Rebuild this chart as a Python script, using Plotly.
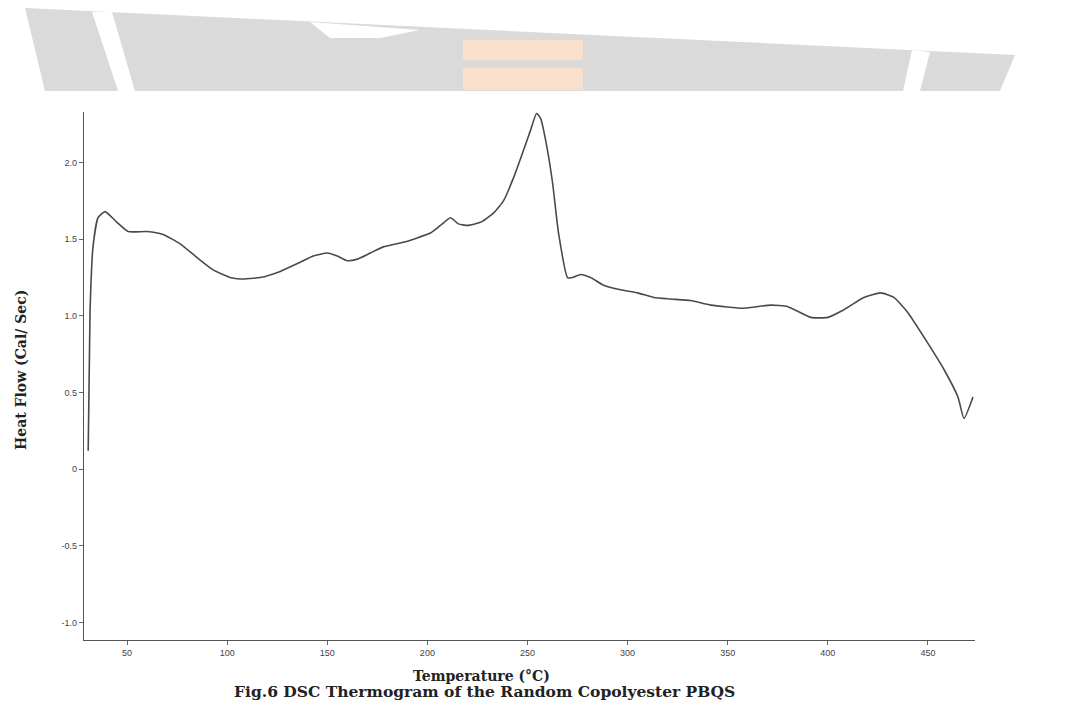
import plotly.graph_objects as go

# Data (Temperature °C, Heat Flow Cal/Sec)
temperature = [30.6, 31.5, 33, 35.5, 39, 45, 50.5, 60, 68, 76.5, 85, 93, 101.5, 106.5,
               116.5, 126.5, 136.5, 143, 150, 155, 160, 165, 171.5, 178, 188, 201.5,
               206.5, 211.5, 215.5, 220, 226.5, 233, 238, 243, 248, 251.5, 254.5, 256.5,
               259, 262.5, 265.5, 270, 272.5, 276.5, 281.5, 288, 296.5, 305, 313, 321.5,
               331.5, 341.5, 358, 371.5, 380, 391.5, 400, 408, 418, 426.5, 433, 440,
               450, 458, 465, 468, 472.5]
heat_flow = [0.12, 1.02, 1.45, 1.64, 1.68, 1.61, 1.55, 1.55, 1.53, 1.47, 1.38, 1.30, 1.25,
             1.24, 1.25, 1.29, 1.35, 1.39, 1.41, 1.39, 1.36, 1.37, 1.41, 1.45, 1.48, 1.54,
             1.59, 1.64, 1.60, 1.59, 1.61, 1.67, 1.75, 1.90, 2.08, 2.21, 2.32, 2.29, 2.15,
             1.87, 1.54, 1.25, 1.25, 1.27, 1.25, 1.20, 1.17, 1.15, 1.12, 1.11, 1.10, 1.07,
             1.05, 1.07, 1.06, 0.99, 0.99, 1.04, 1.12, 1.15, 1.12, 1.02, 0.82, 0.65, 0.47,
             0.33, 0.47]

x_ticks = [50, 100, 150, 200, 250, 300, 350, 400, 450]
y_ticks = [-1.0, -0.5, 0, 0.5, 1.0, 1.5, 2.0]
y_tick_labels = ["-1.0", "-0.5", "0", "0.5", "1.0", "1.5", "2.0"]

OFF = 8  # page body margin
W, H = 1070 - OFF, 702 - OFF
# plot area in page pixels
L, R, T, B = 84, 975, 112, 640
Lf, Rf, Tf, Bf = L - OFF, R - OFF, T - OFF, B - OFF


def px(x, y):
    """page pixel -> paper coordinates"""
    return (x - OFF - Lf) / (Rf - Lf), (Bf - (y - OFF)) / (Bf - Tf)


def poly(points):
    d = ""
    for i, (x, y) in enumerate(points):
        a, b = px(x, y)
        d += ("M" if i == 0 else "L") + f"{a:.4f},{b:.4f} "
    return d + "Z"


fig = go.Figure()
fig.add_trace(go.Scatter(
    x=temperature, y=heat_flow, mode="lines",
    line=dict(color="#4a4a4a", width=1.6, shape="spline", smoothing=0.5),
    showlegend=False, hoverinfo="x+y"))

shapes = [
    # scanned watermark band at the top
    dict(type="path", xref="paper", yref="paper", layer="below",
         path=poly([(25, 8), (1015, 55), (1000, 91), (45, 91)]),
         fillcolor="#dadada", line=dict(width=0)),
    dict(type="path", xref="paper", yref="paper", layer="below",
         path=poly([(92, 12), (112, 12), (135, 91), (118, 91)]),
         fillcolor="#ffffff", line=dict(width=0)),
    dict(type="path", xref="paper", yref="paper", layer="below",
         path=poly([(912, 50), (930, 52), (920, 91), (903, 91)]),
         fillcolor="#ffffff", line=dict(width=0)),
    dict(type="path", xref="paper", yref="paper", layer="below",
         path=poly([(310, 22), (420, 30), (380, 38), (330, 38)]),
         fillcolor="#ffffff", line=dict(width=0)),
]
for (y0, y1) in [(40, 60), (68, 90)]:
    a0, b0 = px(463, y1)
    a1, b1 = px(583, y0)
    shapes.append(dict(type="rect", xref="paper", yref="paper", layer="below",
                       x0=a0, y0=b0, x1=a1, y1=b1,
                       fillcolor="#f8e0cc", line=dict(width=0)))

fig.update_layout(
    width=W, height=H,
    margin=dict(l=Lf, r=W - Rf, t=Tf, b=H - Bf, autoexpand=False),
    paper_bgcolor="white", plot_bgcolor="white",
    shapes=shapes,
    xaxis=dict(range=[28.5, 473.5], tickvals=x_ticks, ticks="outside", ticklen=4,
               tickcolor="#666", showline=True, linecolor="#555", linewidth=1.2,
               showgrid=False, zeroline=False,
               tickfont=dict(family="Liberation Sans", size=9, color="#444")),
    yaxis=dict(range=[-1.115, 2.33], tickvals=y_ticks, ticktext=y_tick_labels,
               ticks="outside", ticklen=4, tickcolor="#666", showline=True,
               linecolor="#555", linewidth=1.2, showgrid=False, zeroline=False,
               tickfont=dict(family="Liberation Sans", size=9, color="#444")),
    annotations=[
        dict(text="<b>Heat Flow (Cal/ Sec)</b>", xref="paper", yref="paper",
             x=px(21, 370)[0], y=px(21, 370)[1], textangle=-90, showarrow=False,
             xanchor="center", yanchor="middle",
             font=dict(family="DejaVu Serif", size=14, color="#222")),
        dict(text="<b>Temperature (°C)</b>", xref="paper", yref="paper",
             x=px(481, 676)[0], y=px(481, 676)[1], showarrow=False,
             xanchor="center", yanchor="middle",
             font=dict(family="DejaVu Serif", size=14, color="#222")),
        dict(text="<b>Fig.6 DSC Thermogram of the Random Copolyester PBQS</b>",
             xref="paper", yref="paper",
             x=px(484, 691)[0], y=px(484, 691)[1], showarrow=False,
             xanchor="center", yanchor="middle",
             font=dict(family="DejaVu Serif", size=15.5, color="#222")),
    ],
)

fig.write_html("out.html")
